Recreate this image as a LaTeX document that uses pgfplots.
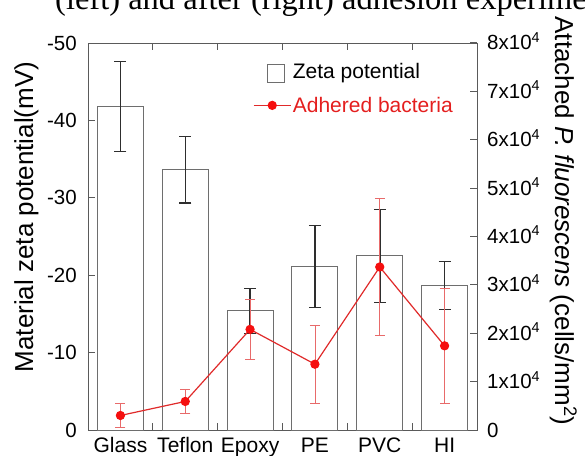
\documentclass[border=0pt]{standalone}
\usepackage{fontspec}
\setmainfont{Liberation Sans}
\newfontfamily\capserif{Liberation Serif}
\usepackage{pgfplots}
\usepackage{pgfplotstable}
\pgfplotsset{compat=1.18}
\definecolor{framegray}{HTML}{5A5A5A}
\definecolor{bargray}{HTML}{6E6E6E}
\definecolor{errblack}{HTML}{2E2E2E}
\definecolor{redline}{HTML}{E02A2A}
\definecolor{markred}{HTML}{F50F0F}
\definecolor{errred}{HTML}{E86A6A}
\definecolor{legred}{HTML}{E41E1E}

\pgfplotstableread{
x y e
0 -41.8 5.8
1 -33.6 4.3
2 -15.4 2.9
3 -21.1 5.3
4 -22.5 6.0
5 -18.7 3.1
}\zetatab

\pgfplotstableread{
x y e
0 3000 2500
1 5900 2500
2 20800 6200
3 13600 8000
4 33700 14200
5 17400 11800
}\bacttab

\newcommand{\tickfont}{\fontsize{20.5}{22}\selectfont}
\newcommand{\xtickfont}{\fontsize{21}{23}\selectfont}
\newcommand{\labfont}{\fontsize{26}{28}\selectfont}
\newcommand{\legfont}{\fontsize{21}{23}\selectfont}

\begin{document}
\begin{tikzpicture}[x=1pt,y=1pt]
% left axis with bars
\begin{axis}[
  at={(88pt,25pt)}, anchor=south west,
  scale only axis, width=389pt, height=387pt,
  xmin=-0.5, xmax=5.5, ymin=-50, ymax=0, y dir=reverse,
  ybar, bar width=0.71,
  xtick={0,1,2,3,4,5},
  xticklabels={Glass,Teflon,Epoxy,PE,PVC,HI},
  xticklabel pos=left,
  major x tick style={draw=none},
  minor xtick={0.5,1.5,2.5,3.5,4.5},
  minor tick length=7pt,
  major tick length=7pt,
  tick align=inside,
  ytick={-50,-40,-30,-20,-10,0},
  yticklabels={-50,-40,-30,-20,-10,0},
  ytick pos=left,
  axis line style={framegray, line width=1pt},
  every tick/.style={framegray, line width=1pt},
  xticklabel style={font=\xtickfont, anchor=base, inner sep=0pt, yshift=-22pt},
  yticklabel style={font=\tickfont, anchor=base east, inner sep=0pt, xshift=-11pt, yshift=-7pt},
]
\addplot[draw=bargray, fill=white, line width=1pt,
  error bars/.cd, y dir=both, y explicit,
  error bar style={line width=1.5pt, errblack},
  error mark options={rotate=90, mark size=6pt, line width=1.5pt, errblack}]
  table[x=x, y=y, y error=e] {\zetatab};
\end{axis}
% right axis with line
\begin{axis}[
  at={(88pt,25pt)}, anchor=south west,
  scale only axis, width=389pt, height=387pt,
  xmin=-0.5, xmax=5.5, ymin=0, ymax=80000,
  axis x line=none, axis y line*=right,
  scaled y ticks=false,
  ytick={0,10000,20000,30000,40000,50000,60000,70000,80000},
  yticklabels={0,{1x10\textsuperscript{4}},{2x10\textsuperscript{4}},{3x10\textsuperscript{4}},{4x10\textsuperscript{4}},{5x10\textsuperscript{4}},{6x10\textsuperscript{4}},{7x10\textsuperscript{4}},{8x10\textsuperscript{4}}},
  tick align=inside, major tick length=7pt,
  axis line style={framegray, line width=1pt},
  every tick/.style={framegray, line width=1pt},
  yticklabel style={font=\tickfont, anchor=base west, inner sep=0pt, xshift=10pt, yshift=-7pt},
  legend style={at={(axis description cs:0.424,0.951)}, anchor=north west,
    draw=none, fill=none, inner sep=0pt, font=\legfont,
    nodes={inner sep=1.5pt}, row sep=13pt},
  legend cell align=left,
]
\addlegendimage{legend image code/.code={
  \path[draw=none] (0pt,0pt) -- (37pt,0pt);
  \draw[bargray, line width=1pt, fill=white] (13.5pt,-10pt) rectangle (30.5pt,8pt);}}
\addlegendentry{Zeta potential}
\addplot[redline, line width=1.2pt, mark=*, mark size=4pt,
  mark options={fill=markred, draw=markred},
  legend image code/.code={
    \draw[redline, line width=1.2pt] (0pt,0pt) -- (37pt,0pt);
    \fill[markred] (18.5pt,0pt) circle (4pt);},
  error bars/.cd, y dir=both, y explicit,
  error bar style={line width=0.8pt, errred},
  error mark options={rotate=90, mark size=5pt, line width=0.8pt, errred}]
  table[x=x, y=y, y error=e] {\bacttab};
\addlegendentry{\textcolor{legred}{Adhered bacteria}}
\end{axis}
% axis titles
\node[rotate=90, anchor=base, inner sep=0pt, font=\labfont] at (33pt,238pt) {Material zeta potential(mV)};
\node[rotate=-90, anchor=base, inner sep=0pt, font=\labfont] at (555pt,234pt) {Attached \textit{P. fluorescens} (cells/mm\textsuperscript{2})};
% cropped caption line at the top
\node[anchor=base west, inner sep=0pt, font=\capserif\fontsize{32.5}{34}\selectfont] at (55pt,445pt) {(left) and after (right) adhesion experiments};
\pgfresetboundingbox
\path (0pt,0pt) rectangle (585pt,455pt);
\end{tikzpicture}
\end{document}
